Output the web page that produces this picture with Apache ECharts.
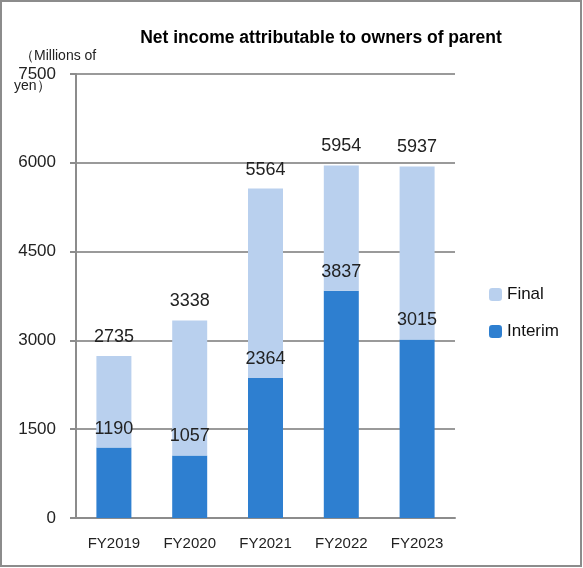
<!DOCTYPE html>
<html><head><meta charset="utf-8">
<script src="https://cdn.jsdelivr.net/npm/echarts@6/dist/echarts.min.js"></script>
<style>html,body{margin:0;padding:0;background:#fff}#c{width:583px;height:568px}</style>
</head><body><div id="c"></div>
<script>
var categories = ['FY2019','FY2020','FY2021','FY2022','FY2023'];
var interim = [1190, 1057, 2364, 3837, 3015];
var totals = [2735, 3338, 5564, 5954, 5937];
var finalPart = totals.map(function(t,i){return t - interim[i];});
var yTicks = [0,1500,3000,4500,6000,7500];

var chart = echarts.init(document.getElementById('c'));
var font = 'Liberation Sans, Arial, sans-serif';
chart.setOption({
  animation:false,
  backgroundColor:'#fff',
  title:{text:'Net income attributable to owners of parent', left:316, top:24, textAlign:'center',
    textStyle:{fontFamily:font, fontWeight:'bold', fontSize:17.5, color:'#000'}},
  graphic:[
    {type:'rect', shape:{x:1,y:1,width:580,height:565}, style:{fill:'none', stroke:'#8c8c8c', lineWidth:2}, z:100},
    {type:'text', left:20, top:49, style:{text:'（Millions of', font:'14px '+font, fill:'#222'}},
    {type:'text', left:14, top:79, style:{text:'yen）', font:'14px '+font, fill:'#222'}}
  ],
  legend:{orient:'vertical', left:484, top:281, itemWidth:13, itemHeight:13, itemGap:20,
    data:['Final','Interim'], textStyle:{fontFamily:font, fontSize:17, color:'#111'}},
  grid:{left:76, right:128, top:74, bottom:50},
  xAxis:{type:'category', data:categories,
    axisLine:{lineStyle:{color:'#8c8c8c', width:2}},
    axisTick:{length:6, lineStyle:{color:'#8c8c8c', width:2}},
    axisLabel:{fontFamily:font, fontSize:15, color:'#222', margin:18}},
  yAxis:{type:'value', min:0, max:7500, interval:1500,
    axisLine:{show:true, lineStyle:{color:'#8c8c8c', width:2}},
    axisTick:{show:true, length:6, lineStyle:{color:'#8c8c8c', width:2}},
    splitLine:{lineStyle:{color:'#9a9a9a', width:2}},
    axisLabel:{fontFamily:font, fontSize:17, color:'#222', margin:20,
      formatter:function(v){return yTicks.indexOf(v)>=0? String(v):'';}}},
  series:[
    {name:'Interim', type:'bar', stack:'a', data:interim, barWidth:35,
      itemStyle:{color:'#2e7fd0'},
      label:{show:true, position:'top', distance:10, fontFamily:font, fontSize:18, color:'#222'}},
    {name:'Final', type:'bar', stack:'a', data:finalPart, barWidth:35,
      itemStyle:{color:'#b9d0ee'},
      label:{show:true, position:'top', distance:10, fontFamily:font, fontSize:18, color:'#222',
        formatter:function(p){return String(totals[p.dataIndex]);}}}
  ]
});
</script></body></html>
